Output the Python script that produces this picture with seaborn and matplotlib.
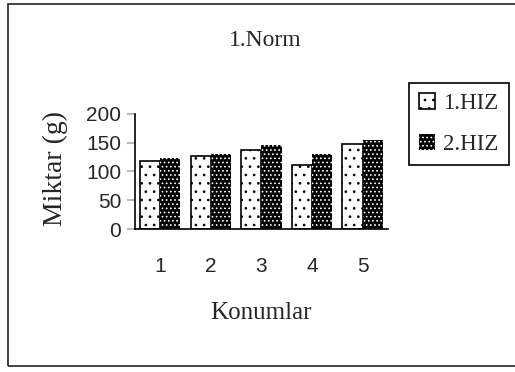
import matplotlib
matplotlib.use("Agg")
import matplotlib.pyplot as plt
import matplotlib.patches as mpatches
import numpy as np
import pandas as pd
import seaborn as sns

# Data
konumlar = ["1", "2", "3", "4", "5"]
seriler = ["1.HIZ", "2.HIZ"]
hiz1 = [119, 127, 138, 112, 148]
hiz2 = [124, 131, 146, 131, 155]
y_ticks = [0, 50, 100, 150, 200]

sns.set_style("white")
plt.rcParams["font.family"] = ["Liberation Serif", "DejaVu Serif"]
plt.rcParams["hatch.linewidth"] = 0.7

df = pd.DataFrame({
    "Konum": konumlar * 2,
    "Miktar": hiz1 + hiz2,
    "Seri": [seriler[0]] * len(konumlar) + [seriler[1]] * len(konumlar),
})

fig = plt.figure(figsize=(5.15, 3.72), dpi=100)
ax = fig.add_axes([0.262, 0.384, 0.491, 0.31])

sns.barplot(data=df, x="Konum", y="Miktar", hue="Seri",
            palette={seriler[0]: "white", seriler[1]: "black"},
            width=0.8, errorbar=None, legend=False, ax=ax,
            edgecolor="black", linewidth=1.2)

# dotted fills like the old Excel pattern
for p in ax.containers[0].patches:
    p.set_hatch("..")
    p.set_edgecolor("black")
for p in ax.containers[1].patches:
    p.set_facecolor("black")
    p.set_edgecolor("white")
    p.set_linewidth(0)
    p.set_hatch("....")

ax.set_xlim(-0.5, len(konumlar) - 0.5)
ax.set_ylim(0, 200)
ax.set_yticks(y_ticks)
ax.set_yticklabels([str(v) for v in y_ticks], fontfamily="Liberation Sans", fontsize=15)
ax.set_xticks(range(len(konumlar)))
ax.set_xticklabels(konumlar, fontfamily="Liberation Sans", fontsize=15)
ax.set_xticks(np.arange(-0.5, len(konumlar), 1), minor=True)

ax.tick_params(axis="x", which="major", length=0, pad=20)
ax.tick_params(axis="x", which="minor", direction="inout", length=9, width=1.2, color="black")
ax.tick_params(axis="y", which="major", direction="out", length=6, width=1.5,
               color="#bbbbbb", pad=4, left=True)

for s in ["top", "right"]:
    ax.spines[s].set_visible(False)
for s in ["left", "bottom"]:
    ax.spines[s].set_color("black")
    ax.spines[s].set_linewidth(1.2)

ax.set_xlabel("Konumlar", fontsize=18)
ax.xaxis.set_label_coords(0.5, -0.73)
ax.xaxis.label.set_va("center")
ax.set_ylabel("Miktar (g)", fontsize=20)
ax.yaxis.set_label_coords(-0.316, 0.53)
ax.yaxis.label.set_va("center")

fig.text(0.515, 1 - 40 / 372, "1.Norm", ha="center", va="center", fontsize=17)

handles = [ax.containers[0].patches[0], ax.containers[1].patches[0]]
leg = fig.legend(handles, seriler, loc="upper left",
                 bbox_to_anchor=(409 / 515, 1 - 83 / 372),
                 fontsize=16.5, frameon=True, fancybox=False, framealpha=1,
                 edgecolor="black", handlelength=0.7, handleheight=0.7,
                 handletextpad=0.35, labelspacing=0.85, borderpad=0.45,
                 borderaxespad=0)
leg.get_frame().set_linewidth(1.2)

# outer frame of the scanned figure
fig.patches.append(mpatches.Rectangle((8 / 515, 6 / 372), 1.0, 1 - 10 / 372,
                                      transform=fig.transFigure, fill=False,
                                      edgecolor="#222222", linewidth=1.2))

fig.savefig("out.png", dpi=100)
